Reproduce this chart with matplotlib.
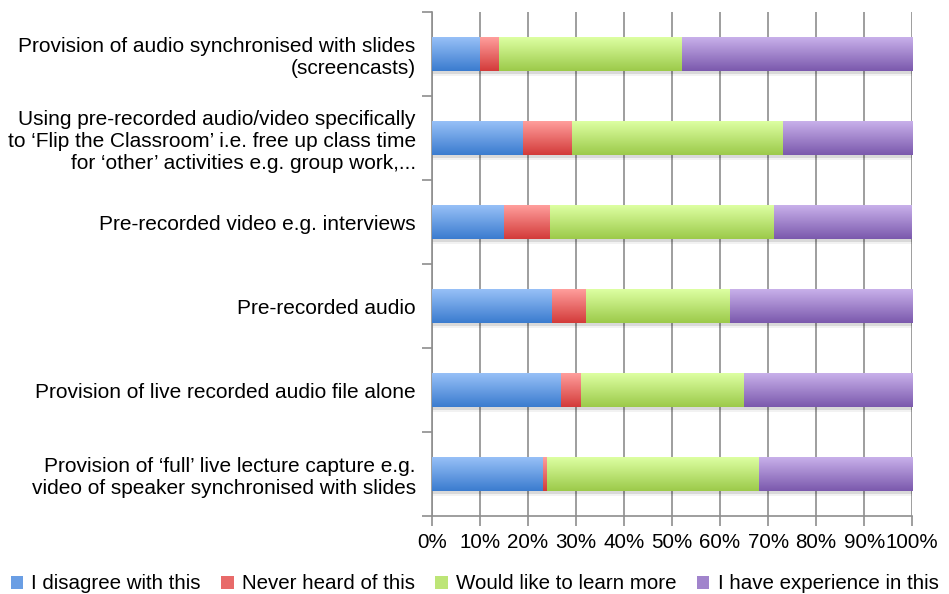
import matplotlib
matplotlib.use("Agg")
import matplotlib.pyplot as plt
import numpy as np
from matplotlib.colors import LinearSegmentedColormap
from matplotlib.patches import Patch

categories = [
    "Provision of audio synchronised with slides\n(screencasts)",
    "Using pre-recorded audio/video specifically\nto \u2018Flip the Classroom\u2019 i.e. free up class time\nfor \u2018other\u2019 activities e.g. group work,...",
    "Pre-recorded video e.g. interviews",
    "Pre-recorded audio",
    "Provision of live recorded audio file alone",
    "Provision of \u2018full\u2019 live lecture capture e.g.\nvideo of speaker synchronised with slides",
]
series_names = ["I disagree with this", "Never heard of this",
                "Would like to learn more", "I have experience in this"]
disagree = [10.1, 19.1, 15.0, 25.0, 27.0, 23.1]
never_heard = [4.0, 10.0, 9.7, 7.1, 4.0, 0.9]
learn_more = [38.0, 43.9, 46.6, 30.0, 34.0, 44.1]
experience = [47.9, 27.0, 28.7, 37.9, 35.0, 31.9]
xtick_labels = ["0%", "10%", "20%", "30%", "40%", "50%", "60%", "70%", "80%", "90%", "100%"]

series = [disagree, never_heard, learn_more, experience]
# (top colour, bottom colour) of each gradient
grads = [("#97c0f7", "#3b7ccf"), ("#ff9e9c", "#d33b3a"),
         ("#ddffa2", "#9cca4a"), ("#c8b0ea", "#7b59ad")]
mids = ["#6a9ee4", "#e86a69", "#bde577", "#a184cc"]

plt.rcParams['font.family'] = ['Liberation Sans', 'DejaVu Sans']

fig = plt.figure(figsize=(9.49, 5.94), dpi=100)
ax = fig.add_axes([0.4549, 0.1313, 0.5064, 0.8485])

n = len(categories)
ypos = np.arange(n)[::-1]  # top category at top
h = 0.4
gray = "#8e8e8e"

ax.set_xlim(0, 100)
ax.set_ylim(-0.5, n - 0.5)

# grid
for xv in range(0, 101, 10):
    ax.axvline(xv, color=gray, lw=1.2, zorder=0.5)

# shadow
totals = np.sum(np.array(series), axis=0)
ax.barh(ypos - 0.035, totals, height=h, left=0, color="#000000", alpha=0.10,
        zorder=1, linewidth=0)
ax.barh(ypos - 0.06, totals, height=h, left=0, color="#000000", alpha=0.05,
        zorder=1, linewidth=0)

left = np.zeros(n)
for vals, (ctop, cbot), mid, name in zip(series, grads, mids, series_names):
    bars = ax.barh(ypos, vals, height=h, left=left, color=mid, label=name,
                   zorder=2, linewidth=0)
    cmap = LinearSegmentedColormap.from_list("g", [ctop, cbot])
    grad = np.linspace(0, 1, 64).reshape(-1, 1)
    for p in bars.patches:
        x0, y0 = p.get_x(), p.get_y()
        w, hh = p.get_width(), p.get_height()
        if w <= 0:
            continue
        im = ax.imshow(grad, cmap=cmap, aspect='auto', origin='upper',
                       extent=[x0, x0 + w, y0, y0 + hh], zorder=3,
                       interpolation='bilinear')
        im.set_clip_path(p)
    left = left + np.array(vals)

ax.set_xlim(0, 100)
ax.set_ylim(-0.5, n - 0.5)

ax.set_xticks(np.arange(0, 101, 10))
ax.set_xticklabels(xtick_labels, fontsize=14.8)
ax.tick_params(axis='x', direction='out', length=7, color=gray, width=1.2, pad=5)

ax.set_yticks(ypos)
ax.set_yticklabels(categories, fontsize=15, linespacing=1.22)
ax.tick_params(axis='y', which='major', length=0, pad=11.5)
ax.set_yticks(np.arange(-0.5, n, 1.0), minor=True)
ax.tick_params(axis='y', which='minor', direction='out', length=7, color=gray, width=1.2)

for s in ["top", "right"]:
    ax.spines[s].set_visible(False)
for s in ["left", "bottom"]:
    ax.spines[s].set_color(gray)
    ax.spines[s].set_linewidth(1.2)

handles = [Patch(facecolor=m, edgecolor='none') for m in mids]
fig.legend(handles, series_names, loc='lower center', bbox_to_anchor=(0.5, -0.03),
           ncol=4, frameon=False, fontsize=14.8, handlelength=0.6, handleheight=0.6,
           handletextpad=0.4, columnspacing=1.0)

fig.savefig("out.png", dpi=100)
